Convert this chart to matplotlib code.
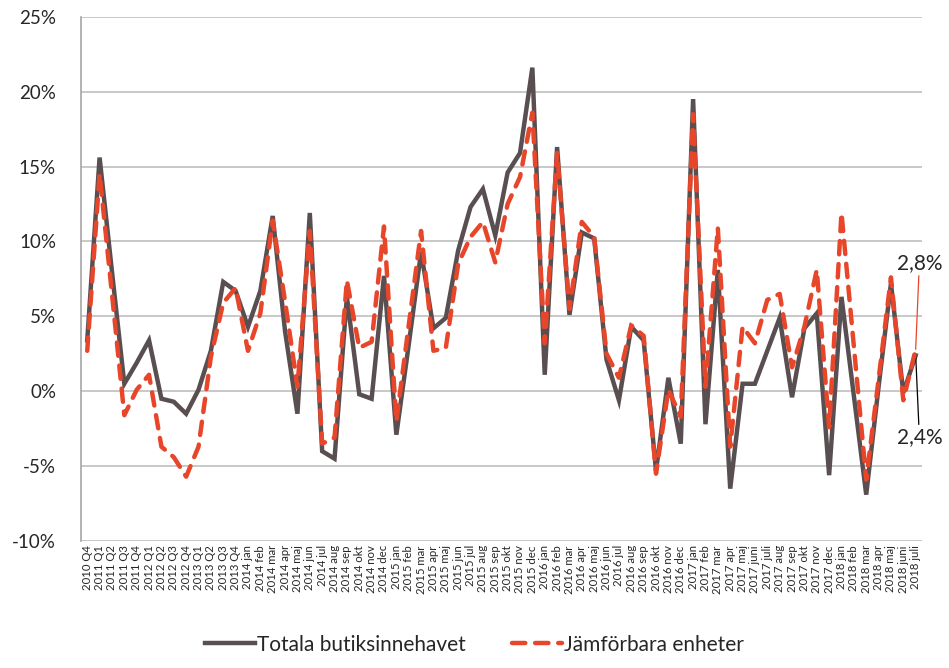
import matplotlib
matplotlib.use("Agg")
import matplotlib.pyplot as plt
from matplotlib.ticker import FuncFormatter

plt.rcParams['font.family'] = ['Lato', 'DejaVu Sans']

# categories: quarters 2010 Q4 - 2013 Q4, then months 2014 jan - 2018 juli
quarters = ['2010 Q4',
            '2011 Q1', '2011 Q2', '2011 Q3', '2011 Q4',
            '2012 Q1', '2012 Q2', '2012 Q3', '2012 Q4',
            '2013 Q1', '2013 Q2', '2013 Q3', '2013 Q4']
months_a = ['jan', 'feb', 'mar', 'apr', 'maj', 'jun', 'jul', 'aug', 'sep', 'okt', 'nov', 'dec']
months_b = ['jan', 'feb', 'mar', 'apr', 'maj', 'juni', 'juli', 'aug', 'sep', 'okt', 'nov', 'dec']
labels = quarters[:]
for yr in [2014, 2015, 2016]:
    labels += [f'{yr} {m}' for m in months_a]
labels += [f'2017 {m}' for m in months_b]
labels += [f'2018 {m}' for m in months_b[:7]]

totala = [3.4, 15.6, 8.0, 0.5, 1.9, 3.4, -0.5, -0.7, -1.5, 0.1, 2.7, 7.3, 6.7,
          # 2014
          4.3, 6.7, 11.7, 4.0, -1.5, 11.9, -4.0, -4.5, 6.3, -0.2, -0.5, 7.7,
          # 2015
          -2.9, 3.1, 9.3, 4.2, 4.9, 9.4, 12.3, 13.5, 10.4, 14.6, 15.9, 21.6,
          # 2016
          1.1, 16.3, 5.1, 10.6, 10.2, 2.1, -0.6, 4.3, 3.4, -5.3, 0.9, -3.5,
          # 2017
          19.5, -2.2, 8.1, -6.5, 0.5, 0.5, 2.7, 4.9, -0.4, 4.2, 5.2, -5.6,
          # 2018
          6.3, -0.3, -6.9, 0.3, 7.2, -0.1, 2.4]

jamforbara = [2.7, 14.5, 6.5, -1.6, 0.1, 1.1, -3.7, -4.4, -5.7, -3.7, 2.3, 5.9, 6.9,
              # 2014
              2.7, 5.2, 11.4, 6.0, 0.3, 10.7, -3.5, -3.1, 7.4, 2.9, 3.3, 11.0,
              # 2015
              -2.0, 4.4, 10.7, 2.7, 2.9, 8.5, 10.3, 11.3, 8.6, 12.5, 14.3, 18.6,
              # 2016
              3.2, 15.9, 5.5, 11.3, 10.3, 2.5, 0.9, 4.4, 3.7, -5.5, 0.1, -1.7,
              # 2017
              18.5, 0.3, 10.9, -3.7, 4.3, 3.2, 6.1, 6.5, 1.6, 4.3, 8.1, -2.4,
              # 2018
              11.9, 3.0, -5.9, 0.8, 7.6, -0.6, 2.8]

dark = '#594E50'
red = '#E8462A'
txt = '#262626'

fig = plt.figure(figsize=(9.49, 6.68), dpi=100)
ax = fig.add_axes([0.0854, 0.19, 0.886, 0.785])

x = list(range(len(labels)))
ax.plot(x, totala, color=dark, lw=3.2, solid_joinstyle='miter', label='Totala butiksinnehavet', zorder=3)
ax.plot(x, jamforbara, color=red, lw=3.2, dashes=(3, 2.2), dash_capstyle='round',
        label='Jämförbara enheter', zorder=4)

ax.set_xlim(-0.5, len(labels) - 0.5)
ax.set_ylim(-10, 25)
ax.set_yticks(range(-10, 26, 5))
ax.yaxis.set_major_formatter(FuncFormatter(lambda v, p: f'{int(v)}%'))
ax.set_xticks(x)
ax.set_xticklabels(labels, rotation=90, fontsize=8.2, color=txt)
ax.tick_params(axis='both', length=0)
ax.tick_params(axis='y', labelsize=13.5, pad=18, labelcolor=txt)
ax.tick_params(axis='x', pad=3)
for lbl in ax.get_yticklabels():
    lbl.set_horizontalalignment('right')

ax.grid(axis='y', color='#BFBFBF', lw=1.2)
ax.set_axisbelow(True)
for s in ['top', 'right', 'bottom']:
    ax.spines[s].set_visible(False)
ax.spines['left'].set_color('#A6A6A6')
ax.spines['left'].set_linewidth(1.2)

# end-point labels
last = len(labels) - 1
ax.annotate('2,8%', xy=(last, jamforbara[-1]), xytext=(last + 0.3, 7.9),
            fontsize=15, color=txt, ha='center', va='bottom',
            arrowprops=dict(arrowstyle='-', color=red, lw=0.9, shrinkA=0, shrinkB=0))
ax.annotate('2,4%', xy=(last, totala[-1]), xytext=(last + 0.3, -2.4),
            fontsize=15, color=txt, ha='center', va='top',
            arrowprops=dict(arrowstyle='-', color='black', lw=0.9, shrinkA=0, shrinkB=0))

leg = fig.legend(loc='lower center', bbox_to_anchor=(0.5, -0.008), ncol=2, frameon=False,
                 fontsize=15, handlelength=2.4, handletextpad=0.1, columnspacing=2.2)
for t in leg.get_texts():
    t.set_color(txt)

fig.savefig('out.png', dpi=100)
